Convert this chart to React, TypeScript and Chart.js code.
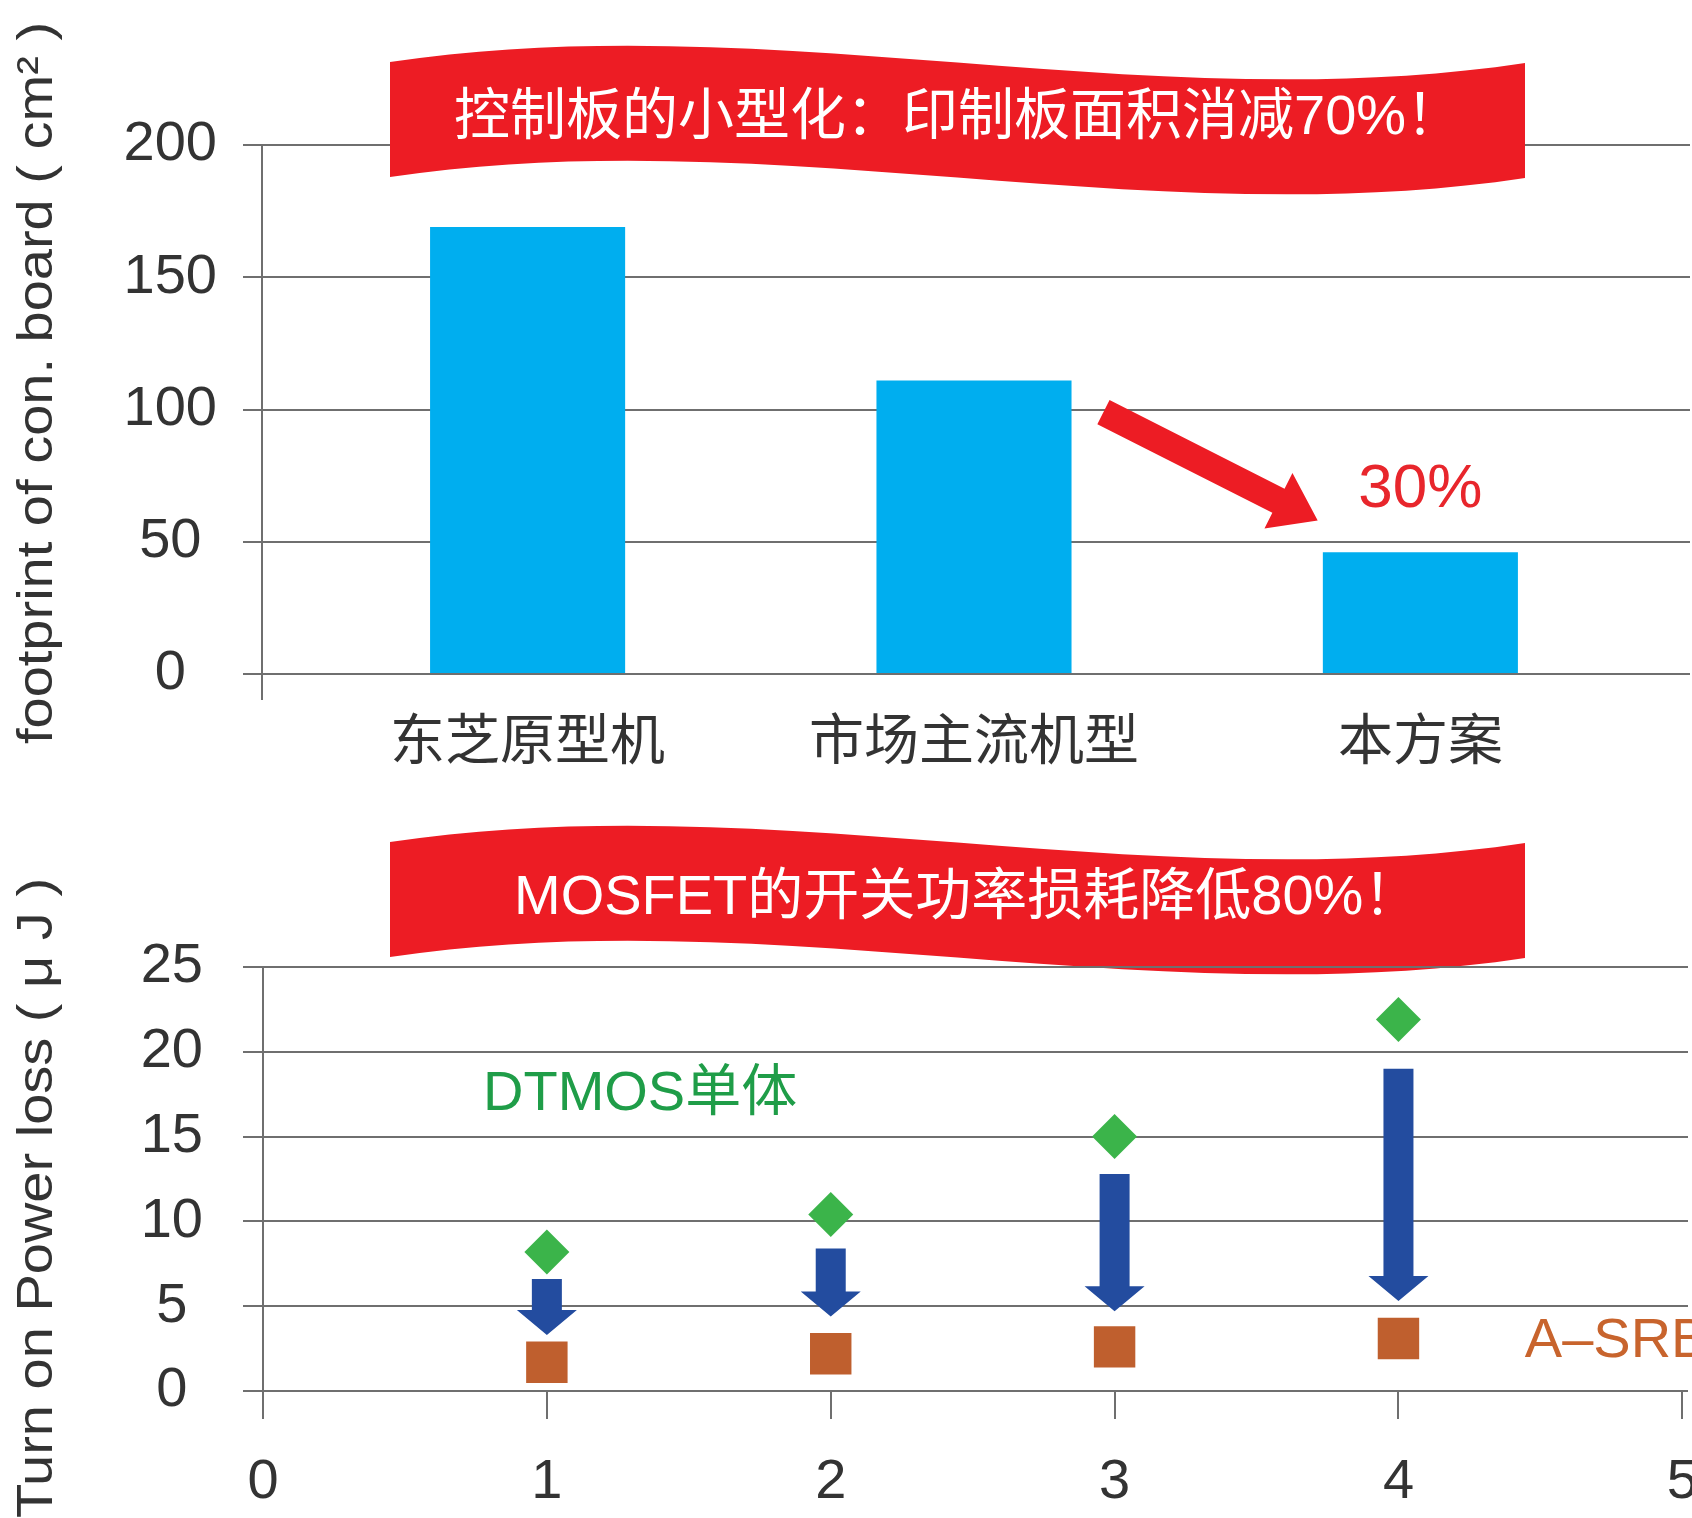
import React, { useEffect, useRef } from 'react';
import { Chart, registerables } from 'chart.js';

Chart.register(...registerables);

// ---------- data: top chart (control board footprint) ----------
const categories = ['东芝原型机', '市场主流机型', '本方案'];
const categoryPos = [1, 2, 3];
const boardArea = [169, 111, 46];
const boardTickStep = 50;
const boardMax = 200;
const reductionArrowX = [2.29, 2.77];
const reductionArrowY = [99, 58];
const reductionText = '30%';
const reductionTextAt = [3.0, 69.5];

// ---------- data: bottom chart (turn-on power loss) ----------
const sampleX = [1, 2, 3, 4];
const dtmosLoss = [8.2, 10.4, 15.0, 21.9];
const asrbLoss = [1.7, 2.2, 2.6, 3.1];
const arrowFrom = [6.6, 8.4, 12.8, 19.0];
const arrowTo = [3.3, 4.4, 4.7, 5.3];
const sampleTicks = [0, 1, 2, 3, 4, 5];
const lossTickStep = 5;
const lossMax = 25;
const dtmosLabel = 'DTMOS单体';
const dtmosLabelAt = [0.775, 17.5];
const asrbLabel = 'A–SRB';
const asrbLabelAt = [4.445, 2.9];

// ---------- texts ----------
const topBanner = '控制板的小型化：印制板面积消减70%！';
const bottomBanner = 'MOSFET的开关功率损耗降低80%！';
const topYTitle = 'footprint of con. board ( cm² )';
const bottomYTitle = 'Turn on Power loss ( μ J )';

// ---------- styles ----------
const GRID = '#6f6f6f';
const TEXT = '#333333';
const CYAN = '#00aeef';
const RED = '#ed1c24';
const RED_TEXT = '#e8262c';
const GREEN_MARK = '#3bb44a';
const GREEN_TEXT = '#1f9d48';
const BROWN = '#bf5f2e';
const BROWN_TEXT = '#c8642d';
const BLUE = '#234c9f';
const LATIN = '"Liberation Sans", Arial, "Noto Sans CJK SC", sans-serif';
const CJK = '"Noto Sans CJK SC", "Liberation Sans", sans-serif';

const TOP_H = 790;
const BOTTOM_TOP = 760;
const BOTTOM_H = 758;

function drawBanner(ctx: CanvasRenderingContext2D, dy: number, text: string, textX: number) {
  ctx.save();
  ctx.translate(0, dy);
  ctx.beginPath();
  ctx.moveTo(390, 62);
  ctx.bezierCurveTo(768, 5, 1147, 120, 1525, 63);
  ctx.lineTo(1525, 178);
  ctx.bezierCurveTo(1147, 235, 768, 120, 390, 177);
  ctx.closePath();
  ctx.fillStyle = RED;
  ctx.fill();
  ctx.fillStyle = '#ffffff';
  ctx.font = `56px ${LATIN}`;
  ctx.textAlign = 'left';
  ctx.textBaseline = 'middle';
  ctx.fillText(text, textX, 119);
  ctx.restore();
}

function drawYTitle(ctx: CanvasRenderingContext2D, text: string, cx: number, cy: number) {
  ctx.save();
  ctx.translate(cx, cy);
  ctx.rotate(-Math.PI / 2);
  ctx.scale(1.12, 1);
  ctx.font = `50px ${LATIN}`;
  ctx.fillStyle = TEXT;
  ctx.textAlign = 'center';
  ctx.textBaseline = 'middle';
  ctx.fillText(text, 0, 0);
  ctx.restore();
}

function drawArrow(
  ctx: CanvasRenderingContext2D,
  x1: number, y1: number, x2: number, y2: number,
  shaftW: number, headW: number, headL: number, color: string
) {
  const dx = x2 - x1;
  const dy = y2 - y1;
  const len = Math.hypot(dx, dy) || 1;
  const ux = dx / len;
  const uy = dy / len;
  const px = -uy;
  const py = ux;
  const bx = x2 - ux * headL;
  const by = y2 - uy * headL;
  ctx.save();
  ctx.beginPath();
  ctx.moveTo(x1 + (px * shaftW) / 2, y1 + (py * shaftW) / 2);
  ctx.lineTo(bx + (px * shaftW) / 2, by + (py * shaftW) / 2);
  ctx.lineTo(bx + (px * headW) / 2, by + (py * headW) / 2);
  ctx.lineTo(x2, y2);
  ctx.lineTo(bx - (px * headW) / 2, by - (py * headW) / 2);
  ctx.lineTo(bx - (px * shaftW) / 2, by - (py * shaftW) / 2);
  ctx.lineTo(x1 - (px * shaftW) / 2, y1 - (py * shaftW) / 2);
  ctx.closePath();
  ctx.fillStyle = color;
  ctx.fill();
  ctx.restore();
}

const topDecor = {
  id: 'topDecor',
  afterDraw(chart: any) {
    const { ctx, chartArea, scales } = chart;
    const x = scales.x;
    const y = scales.y;
    ctx.save();
    ctx.strokeStyle = GRID;
    ctx.lineWidth = 2;
    ctx.beginPath();
    ctx.moveTo(chartArea.left, chartArea.bottom);
    ctx.lineTo(chartArea.left, chartArea.bottom + 26);
    ctx.stroke();
    ctx.restore();

    drawArrow(
      ctx,
      x.getPixelForValue(reductionArrowX[0]), y.getPixelForValue(reductionArrowY[0]),
      x.getPixelForValue(reductionArrowX[1]), y.getPixelForValue(reductionArrowY[1]),
      27, 62, 44, RED
    );

    ctx.save();
    ctx.font = `62px ${LATIN}`;
    ctx.fillStyle = RED_TEXT;
    ctx.textAlign = 'center';
    ctx.textBaseline = 'middle';
    ctx.fillText(reductionText, x.getPixelForValue(reductionTextAt[0]), y.getPixelForValue(reductionTextAt[1]));
    ctx.restore();

    drawBanner(ctx, 0, topBanner, 454);
    drawYTitle(ctx, topYTitle, 38, 383);
  },
};

const bottomDecor = {
  id: 'bottomDecor',
  beforeDraw(chart: any) {
    drawBanner(chart.ctx, 20, bottomBanner, 514);
  },
  afterDatasetsDraw(chart: any) {
    const { ctx, scales } = chart;
    const x = scales.x;
    const y = scales.y;
    sampleX.forEach((sx, i) => {
      const px = x.getPixelForValue(sx);
      drawArrow(ctx, px, y.getPixelForValue(arrowFrom[i]), px, y.getPixelForValue(arrowTo[i]), 30, 60, 25, BLUE);
    });
    ctx.save();
    ctx.font = `56px ${LATIN}`;
    ctx.textAlign = 'left';
    ctx.textBaseline = 'middle';
    ctx.fillStyle = GREEN_TEXT;
    ctx.fillText(dtmosLabel, x.getPixelForValue(dtmosLabelAt[0]), y.getPixelForValue(dtmosLabelAt[1]));
    ctx.fillStyle = BROWN_TEXT;
    ctx.fillText(asrbLabel, x.getPixelForValue(asrbLabelAt[0]), y.getPixelForValue(asrbLabelAt[1]));
    ctx.restore();
  },
  afterDraw(chart: any) {
    drawYTitle(chart.ctx, bottomYTitle, 38, 438);
  },
};

function topConfig(): any {
  return {
    type: 'bar',
    data: {
      datasets: [
        {
          label: 'footprint',
          data: categoryPos.map((x, i) => ({ x, y: boardArea[i] })),
          backgroundColor: CYAN,
          borderWidth: 0,
          barPercentage: 0.437,
          categoryPercentage: 1,
        },
      ],
    },
    options: {
      animation: false,
      responsive: false,
      devicePixelRatio: 1,
      layout: { autoPadding: false, padding: { top: 145, right: 2, bottom: 0, left: 0 } },
      plugins: { legend: { display: false }, tooltip: { enabled: false } },
      scales: {
        x: {
          type: 'linear',
          min: 0.405,
          max: 3.604,
          offset: false,
          grid: { display: false, drawTicks: false },
          border: { display: false },
          afterBuildTicks: (s: any) => {
            s.ticks = categoryPos.map((v) => ({ value: v }));
          },
          afterFit: (s: any) => {
            s.height = TOP_H - 674;
            s.paddingLeft = 0;
            s.paddingRight = 0;
          },
          ticks: {
            autoSkip: false,
            maxRotation: 0,
            minRotation: 0,
            padding: 31,
            color: TEXT,
            font: { family: CJK, size: 55 },
            callback: (v: number) => {
              const i = categoryPos.indexOf(v);
              return i >= 0 ? categories[i] : '';
            },
          },
        },
        y: {
          min: 0,
          max: boardMax,
          grid: { color: GRID, lineWidth: 2, tickLength: 19 },
          border: { color: GRID, width: 2 },
          afterFit: (s: any) => {
            s.width = 262;
          },
          ticks: {
            stepSize: boardTickStep,
            padding: 26,
            crossAlign: 'center',
            color: TEXT,
            font: { family: LATIN, size: 56 },
          },
        },
      },
    },
    plugins: [topDecor],
  };
}

function bottomConfig(): any {
  return {
    type: 'scatter',
    data: {
      datasets: [
        {
          label: dtmosLabel,
          data: sampleX.map((x, i) => ({ x, y: dtmosLoss[i] })),
          pointStyle: 'rectRot',
          pointRadius: 22.5,
          backgroundColor: GREEN_MARK,
          pointBackgroundColor: GREEN_MARK,
          borderWidth: 0,
          pointBorderWidth: 0,
        },
        {
          label: asrbLabel,
          data: sampleX.map((x, i) => ({ x, y: asrbLoss[i] })),
          pointStyle: 'rect',
          pointRadius: 29.3,
          backgroundColor: BROWN,
          pointBackgroundColor: BROWN,
          borderWidth: 0,
          pointBorderWidth: 0,
        },
      ],
    },
    options: {
      animation: false,
      responsive: false,
      devicePixelRatio: 1,
      layout: { autoPadding: false, padding: { top: 207, right: 4, bottom: 0, left: 0 } },
      plugins: { legend: { display: false }, tooltip: { enabled: false } },
      scales: {
        x: {
          type: 'linear',
          min: 0,
          max: 5.02,
          grid: { drawOnChartArea: false, drawTicks: true, tickLength: 28, color: GRID, lineWidth: 2 },
          border: { display: false },
          afterBuildTicks: (s: any) => {
            s.ticks = sampleTicks.map((v) => ({ value: v }));
          },
          afterFit: (s: any) => {
            s.height = 127;
            s.paddingLeft = 0;
            s.paddingRight = 0;
          },
          ticks: {
            autoSkip: false,
            maxRotation: 0,
            minRotation: 0,
            padding: 30,
            color: TEXT,
            font: { family: LATIN, size: 56 },
          },
        },
        y: {
          min: 0,
          max: lossMax,
          grid: { color: GRID, lineWidth: 2, tickLength: 20 },
          border: { color: GRID, width: 2 },
          afterFit: (s: any) => {
            s.width = 263;
          },
          ticks: {
            stepSize: lossTickStep,
            padding: 40,
            crossAlign: 'center',
            color: TEXT,
            font: { family: LATIN, size: 56 },
          },
        },
      },
    },
    plugins: [bottomDecor],
  };
}

export default function App() {
  const topRef = useRef<HTMLCanvasElement>(null);
  const botRef = useRef<HTMLCanvasElement>(null);

  useEffect(() => {
    const top = new Chart(topRef.current as HTMLCanvasElement, topConfig());
    const bot = new Chart(botRef.current as HTMLCanvasElement, bottomConfig());
    return () => {
      top.destroy();
      bot.destroy();
    };
  }, []);

  return (
    <div
      style={{
        position: 'absolute',
        left: 0,
        top: 0,
        width: 1692,
        height: 1518,
        background: '#ffffff',
        overflow: 'hidden',
      }}
    >
      <canvas
        ref={topRef}
        width={1692}
        height={TOP_H}
        style={{ position: 'absolute', left: 0, top: 0, display: 'block', width: 1692, height: TOP_H }}
      />
      <canvas
        ref={botRef}
        width={1692}
        height={BOTTOM_H}
        style={{ position: 'absolute', left: 0, top: BOTTOM_TOP, display: 'block', width: 1692, height: BOTTOM_H }}
      />
    </div>
  );
}
